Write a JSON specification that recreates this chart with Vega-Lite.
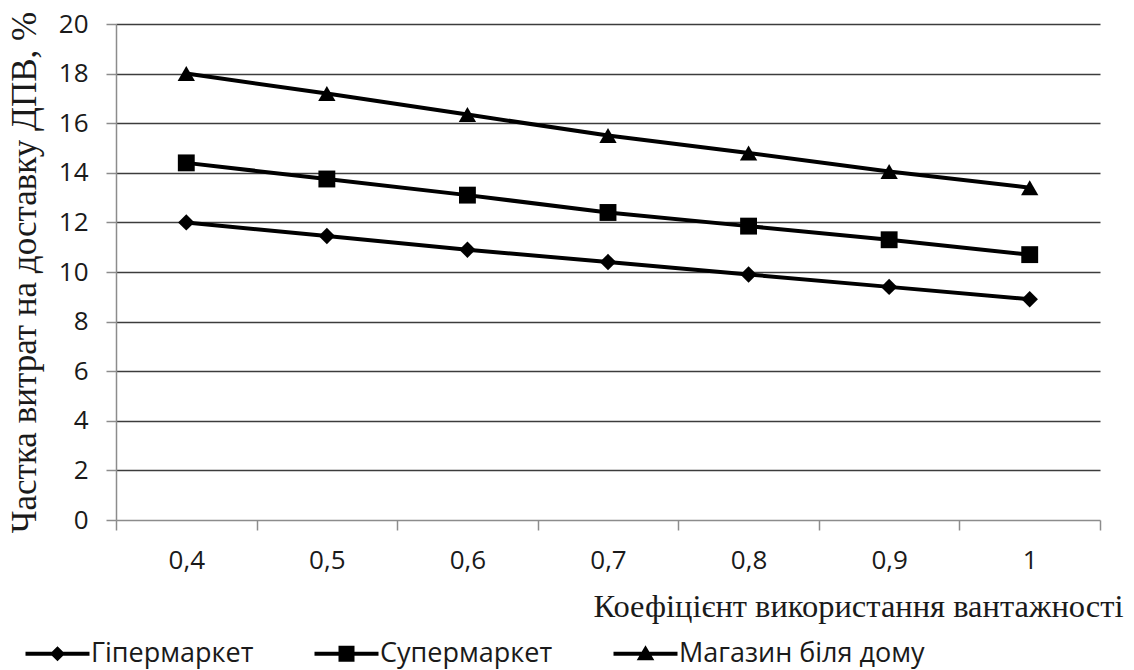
{
  "$schema": "https://vega.github.io/schema/vega-lite/v6.json",
  "width": 984,
  "height": 496,
  "autosize": "none",
  "padding": {"left": 116, "top": 24, "right": 34, "bottom": 150},
  "background": "white",
  "data": {
    "values": [
      {"k": "0,4", "series": "Гіпермаркет", "share": 12.0},
      {"k": "0,5", "series": "Гіпермаркет", "share": 11.45},
      {"k": "0,6", "series": "Гіпермаркет", "share": 10.9},
      {"k": "0,7", "series": "Гіпермаркет", "share": 10.4},
      {"k": "0,8", "series": "Гіпермаркет", "share": 9.9},
      {"k": "0,9", "series": "Гіпермаркет", "share": 9.4},
      {"k": "1", "series": "Гіпермаркет", "share": 8.9},
      {"k": "0,4", "series": "Супермаркет", "share": 14.4},
      {"k": "0,5", "series": "Супермаркет", "share": 13.75},
      {"k": "0,6", "series": "Супермаркет", "share": 13.1},
      {"k": "0,7", "series": "Супермаркет", "share": 12.4},
      {"k": "0,8", "series": "Супермаркет", "share": 11.85},
      {"k": "0,9", "series": "Супермаркет", "share": 11.3},
      {"k": "1", "series": "Супермаркет", "share": 10.7},
      {"k": "0,4", "series": "Магазин біля дому", "share": 18.0},
      {"k": "0,5", "series": "Магазин біля дому", "share": 17.2},
      {"k": "0,6", "series": "Магазин біля дому", "share": 16.35},
      {"k": "0,7", "series": "Магазин біля дому", "share": 15.5},
      {"k": "0,8", "series": "Магазин біля дому", "share": 14.8},
      {"k": "0,9", "series": "Магазин біля дому", "share": 14.05},
      {"k": "1", "series": "Магазин біля дому", "share": 13.4}
    ]
  },
  "config": {
    "view": {"stroke": null},
    "axis": {
      "labelFont": "Open Sans",
      "labelFontSize": 26,
      "labelColor": "#1a1a1a",
      "titleColor": "#1a1a1a",
      "domainColor": "#8c8c8c",
      "domainWidth": 1.5,
      "tickColor": "#8c8c8c",
      "tickWidth": 1.5,
      "tickSize": 10
    }
  },
  "encoding": {
    "x": {
      "field": "k",
      "type": "ordinal",
      "sort": null,
      "bandPosition": 0.5,
      "scale": {"type": "band", "paddingInner": 0, "paddingOuter": 0},
      "axis": {
        "title": "Коефіцієнт використання вантажності",
        "titleFont": "Liberation Serif",
        "titleFontSize": 32.5,
        "titleFontWeight": "normal",
        "titleAnchor": "end",
        "titleAlign": "right",
        "titleBaseline": "alphabetic",
        "titleX": 1007,
        "titleY": 96,
        "labelAngle": 0,
        "labelFontSize": 26,
        "labelPadding": 17,
        "tickBand": "extent",
        "grid": false
      }
    },
    "y": {
      "field": "share",
      "type": "quantitative",
      "scale": {"domain": [0, 20], "nice": false, "zero": true},
      "axis": {
        "title": "Частка витрат на доставку ДПВ, %",
        "titleFont": "Liberation Serif",
        "titleFontSize": 35,
        "titleFontWeight": "normal",
        "titlePadding": 16,
        "values": [0, 2, 4, 6, 8, 10, 12, 14, 16, 18, 20],
        "labelFontSize": 26,
        "labelPadding": 18,
        "grid": true,
        "gridColor": "#3c3c3c",
        "gridWidth": 1.5,
        "gridOpacity": {"condition": {"test": "datum.value === 0", "value": 0}, "value": 1}
      }
    }
  },
  "layer": [
    {
      "mark": {"type": "line", "color": "black", "strokeWidth": 4},
      "encoding": {"detail": {"field": "series"}}
    },
    {
      "mark": {"type": "point", "filled": true, "color": "black", "opacity": 1},
      "encoding": {
        "shape": {
          "field": "series",
          "scale": {
            "domain": ["Гіпермаркет", "Супермаркет", "Магазин біля дому"],
            "range": ["diamond", "square", "triangle-up"]
          },
          "legend": null
        },
        "size": {
          "field": "series",
          "type": "nominal",
          "scale": {
            "domain": ["Гіпермаркет", "Супермаркет", "Магазин біля дому"],
            "range": [270, 300, 340]
          },
          "legend": null
        }
      }
    },
    {
      "transform": [{"filter": "false"}],
      "mark": {"type": "point", "filled": true, "color": "black", "opacity": 1, "size": 256},
      "encoding": {
        "shape": {
          "field": "series",
          "scale": {
            "domain": ["Гіпермаркет", "Супермаркет", "Магазин біля дому"],
            "range": [
              "M-4,-0.25H4V0.25H-4Z M-0.95,0L0,-0.95L0.95,0L0,0.95Z",
              "M-4,-0.25H4V0.25H-4Z M-1,-1H1V1H-1Z",
              "M-4,-0.25H4V0.25H-4Z M0,-1.05L1.1,0.8H-1.1Z"
            ]
          },
          "legend": {
            "title": null,
            "orient": "none",
            "direction": "horizontal",
            "legendX": -72,
            "legendY": 616,
            "labelFont": "Open Sans",
            "labelFontSize": 27,
            "labelColor": "#1a1a1a",
            "labelLimit": 400,
            "labelOffset": 20,
            "columnPadding": 60,
            "symbolSize": 256,
            "symbolFillColor": "black",
            "symbolStrokeWidth": 0,
            "symbolOpacity": 1
          }
        }
      }
    }
  ],
  "resolve": {"scale": {"shape": "independent"}}
}
